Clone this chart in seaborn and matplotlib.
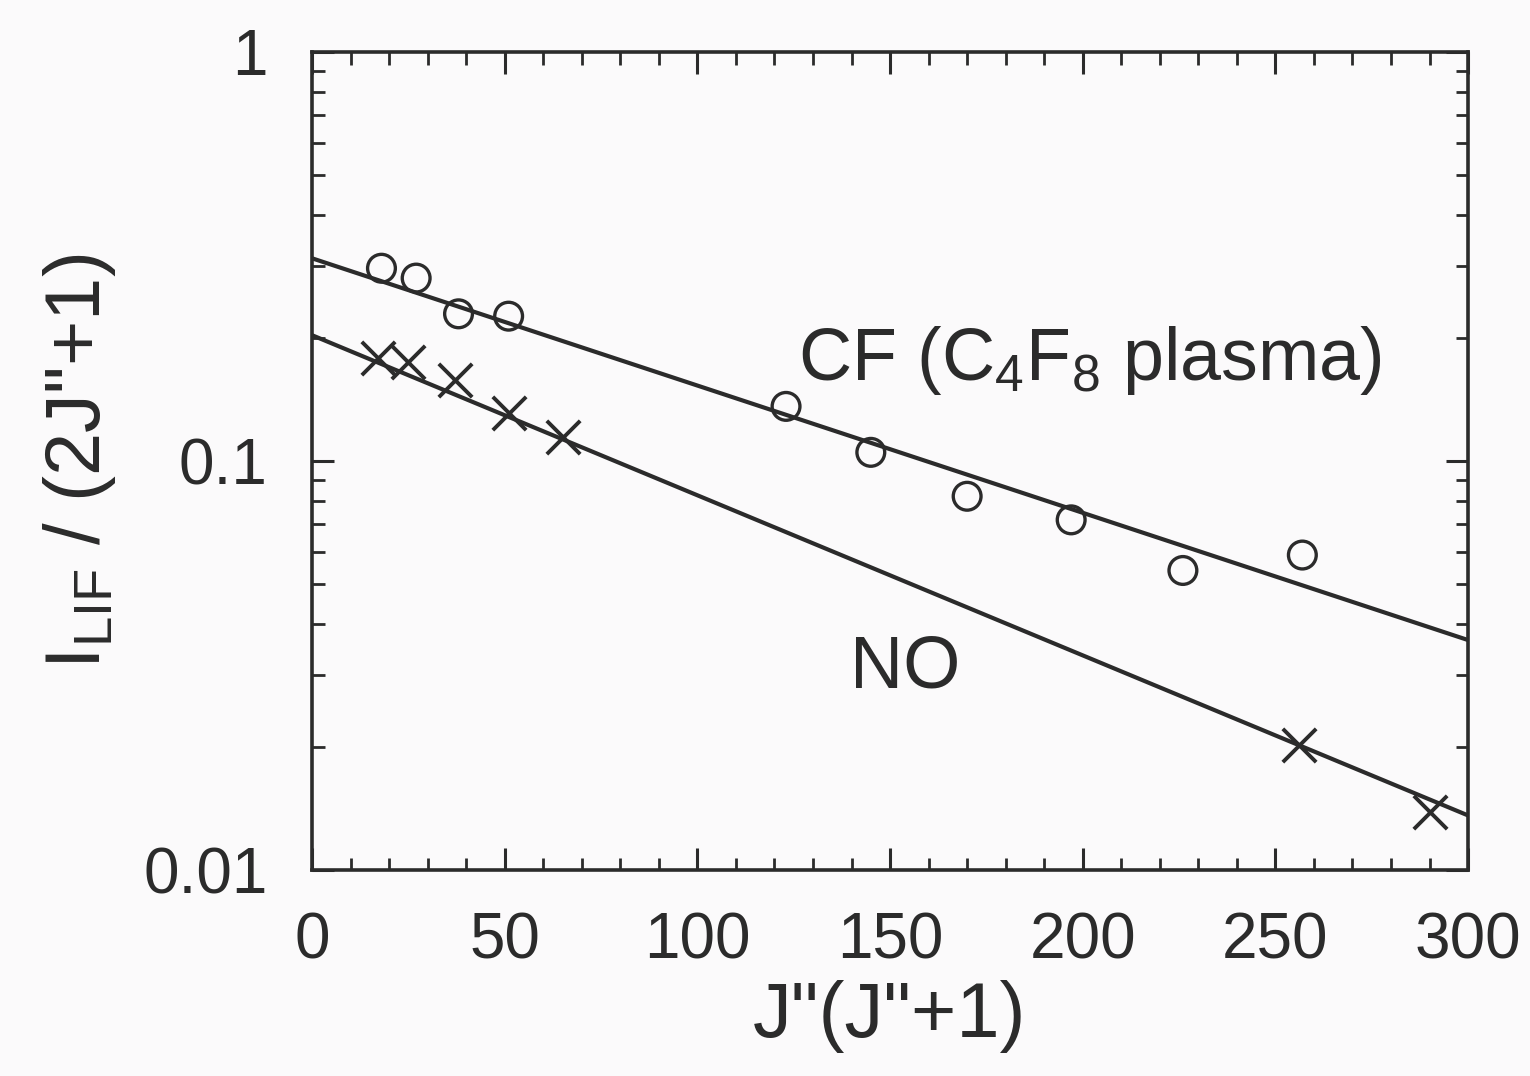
import numpy as np
import pandas as pd
import matplotlib
matplotlib.use("Agg")
import matplotlib.pyplot as plt
import seaborn as sns
from matplotlib.ticker import FixedLocator, LogLocator, MultipleLocator, FixedFormatter, NullFormatter

# ---- data ----
cf_x = [18, 27, 38, 51, 123, 145, 170, 197, 226, 257]
cf_y = [0.296, 0.280, 0.229, 0.226, 0.136, 0.105, 0.082, 0.0718, 0.054, 0.0589]

no_x = [17, 25, 37, 51, 65, 256, 290]
no_y = [0.179, 0.175, 0.158, 0.131, 0.1145, 0.0202, 0.0139]

fit_x = [0, 300]
cf_fit = [0.313, 0.0365]
no_fit = [0.203, 0.0136]

x_ticks = [0, 50, 100, 150, 200, 250, 300]
y_ticks = [0.01, 0.1, 1]
y_tick_labels = ["0.01", "0.1", "1"]

# ---- style ----
sns.set_theme(style="ticks")
plt.rcParams['font.family'] = ['Liberation Sans', 'DejaVu Sans']
plt.rcParams['mathtext.fontset'] = 'custom'
plt.rcParams['mathtext.rm'] = 'Liberation Sans'
plt.rcParams['mathtext.it'] = 'Liberation Sans'
ink = '#2b2b2b'
bg = '#fbfafb'

fig = plt.figure(figsize=(15.3, 10.76), dpi=100, facecolor=bg)
ax = fig.add_axes([0.204, 0.1914, 0.7555, 0.7603])
ax.set_facecolor(bg)

fits = pd.DataFrame({"x": fit_x * 2, "y": cf_fit + no_fit,
                     "s": ["CF"] * 2 + ["NO"] * 2})
sns.lineplot(data=fits, x="x", y="y", units="s", estimator=None,
             color=ink, lw=3.0, ax=ax, legend=False)

sns.scatterplot(x=cf_x, y=cf_y, marker='o', s=20**2, facecolors='none',
                edgecolor=ink, linewidth=2.4, ax=ax, zorder=3)
sns.scatterplot(x=no_x, y=no_y, marker='x', s=24**2, color=ink,
                linewidth=2.8, ax=ax, zorder=3)

ax.set_yscale('log')
ax.set_xlim(0, 300)
ax.set_ylim(0.01, 1)

ax.xaxis.set_major_locator(FixedLocator(x_ticks))
ax.xaxis.set_minor_locator(MultipleLocator(10))
ax.set_xticklabels([str(t) for t in x_ticks])
ax.yaxis.set_major_locator(FixedLocator(y_ticks))
ax.yaxis.set_major_formatter(FixedFormatter(y_tick_labels))
ax.yaxis.set_minor_locator(LogLocator(base=10, subs=np.arange(2, 10)))
ax.yaxis.set_minor_formatter(NullFormatter())

for s in ax.spines.values():
    s.set_visible(True)
    s.set_color(ink)
    s.set_linewidth(2.6)

ax.tick_params(which='both', direction='in', top=True, right=True,
               color=ink, labelcolor=ink)
ax.tick_params(which='major', length=16, width=2.2, labelsize=46, pad=30)
ax.tick_params(which='minor', length=9, width=2.0)
ax.tick_params(axis='y', which='major', pad=32)

ax.set_xlabel('J"(J"+1)', fontsize=56, color=ink, labelpad=6)
ax.set_ylabel('I$_{\\mathregular{LIF}}$ / (2J"+1)', fontsize=56, color=ink, labelpad=18)

ax.text(126, 0.158, 'CF (C$_{\\mathregular{4}}$F$_{\\mathregular{8}}$ plasma)',
        fontsize=53, color=ink, ha='left', va='baseline')
ax.text(154, 0.0312, 'NO', fontsize=53, color=ink, ha='center', va='center')

fig.savefig('out.png', dpi=100, facecolor=bg)
